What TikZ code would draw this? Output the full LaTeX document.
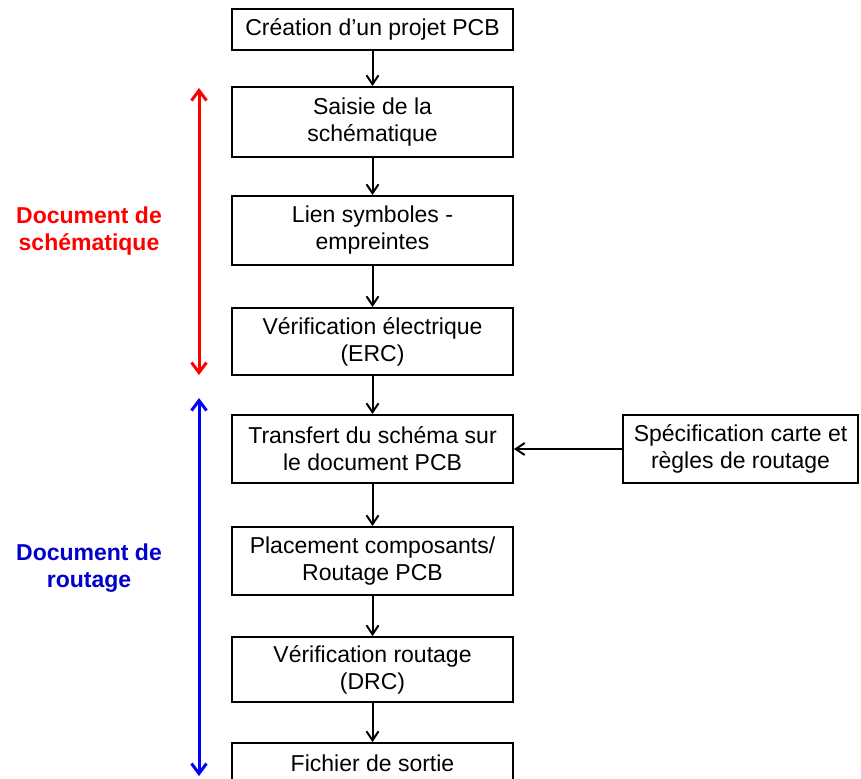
\documentclass[tikz,border=0pt]{standalone}
\usepackage{fontspec}
\setmainfont{Liberation Sans}
\usetikzlibrary{graphs}
\usetikzlibrary{arrows.meta}

\definecolor{schred}{RGB}{255,0,0}
\definecolor{roublue}{RGB}{0,0,255}
\definecolor{roulabel}{RGB}{0,0,204}

\tikzset{
  etape/.style={draw, line width=0.9pt, align=center, minimum width=140.5pt,
    inner sep=0pt, font=\fontsize{11.5}{13.5}\selectfont},
  doclabel/.style={align=center, font=\fontsize{11.5}{13.5}\selectfont\bfseries},
}

\begin{document}
\begin{tikzpicture}[x=0.5pt, y=-0.5pt, line width=1pt,
    >={Straight Barb[length=4.5pt,width=6pt]}]
  \useasboundingbox (0,0) rectangle (861,778);
  \clip (0,0) rectangle (861,778);
  \node[etape, minimum height=20.5pt] (crea) at (372.5,29.5) {Création d’un projet PCB};
  \node[etape, minimum height=35pt] (saisie) at (372.5,122) {Saisie de la\\schématique};
  \node[etape, minimum height=34.5pt] (lien) at (372.5,230.5) {Lien symboles -\\empreintes};
  \node[etape, minimum height=33.5pt] (erc) at (372.5,341.5) {Vérification électrique\\(ERC)};
  \node[etape, minimum height=34pt] (transf) at (372.5,449) {Transfert du schéma sur\\le document PCB};
  \node[etape, minimum height=34pt] (plac) at (372.5,561) {Placement composants/\\Routage PCB};
  \node[etape, minimum height=32.5pt] (drc) at (372.5,669.5) {Vérification routage\\(DRC)};
  \node[etape, minimum height=20.5pt] (sortie) at (372.5,763.5) {Fichier de sortie};
  \node[etape, minimum width=117.5pt, minimum height=34pt] (spec) at (740.5,449) {Spécification carte et\\règles de routage};
  \graph[edges={line width=1pt}]{(crea) -> (saisie) -> (lien) -> (erc) -> (transf) -> (plac) -> (drc) -> (sortie)};
  \graph[edges={line width=1pt}]{(spec) -> (transf)};
  % documents
  \coordinate (s1) at (199,88);
  \coordinate (s2) at (199,375);
  \coordinate (r1) at (199,398);
  \coordinate (r2) at (199,776);
  \draw[schred, line width=1.5pt, {Straight Barb[length=5pt,width=7.5pt]}-{Straight Barb[length=5pt,width=7.5pt]}] (s1) -- (s2);
  \draw[roublue, line width=1.5pt, {Straight Barb[length=5pt,width=7.5pt]}-{Straight Barb[length=5pt,width=7.5pt]}] (r1) -- (r2);
  \node[doclabel, text=schred] (docsch) at (89,231) {Document de\\schématique};
  \node[doclabel, text=roulabel] (docrou) at (89,568) {Document de\\routage};
\end{tikzpicture}
\end{document}
